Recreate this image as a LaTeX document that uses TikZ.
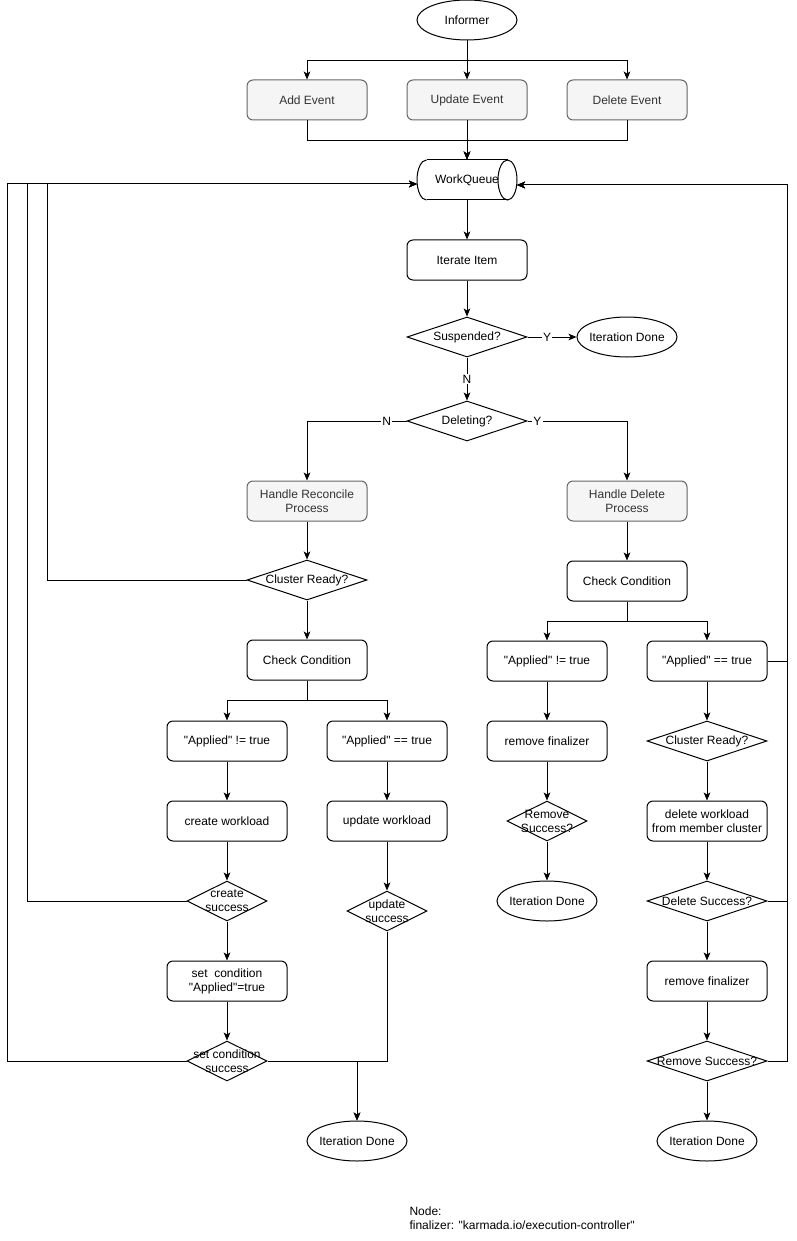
\documentclass[tikz,border=0pt]{standalone}
\usepackage{fontspec}
\setmainfont{Liberation Sans}[Ligatures=TeXOff]
\usetikzlibrary{shapes.geometric,arrows.meta}
\definecolor{gfill}{HTML}{F5F5F5}
\definecolor{gline}{HTML}{666666}
\definecolor{gtext}{HTML}{333333}
\begin{document}
\begin{tikzpicture}[x=0.75pt,y=-0.75pt,line width=0.75pt,
  >={Stealth[length=6pt,width=5pt,inset=1.5pt]},
  font=\fontsize{9}{10.5}\selectfont,
  box/.style={draw,rectangle,rounded corners=4.5pt,minimum width=90pt,minimum height=30pt,inner sep=1pt,align=center},
  gbox/.style={box,fill=gfill,draw=gline,text=gtext},
  dia/.style={draw,diamond,inner sep=0pt,minimum width=90pt,minimum height=30pt},
  sdia/.style={dia,minimum width=60pt},
  term/.style={draw,ellipse,inner sep=0pt,minimum width=75pt,minimum height=30pt},
  lbl/.style={fill=white,inner sep=1pt},
  clab/.style={label={[align=center]center:#1}}]
\useasboundingbox (0,0) rectangle (796,1241);

% top
\node[term,clab={Informer}] (inf) at (467,20) {};
\node[gbox] (add) at (307,100) {Add Event};
\node[gbox] (upd) at (467,100) {Update Event};
\node[gbox] (del) at (627,100) {Delete Event};
\node[inner sep=0pt,minimum width=75pt,minimum height=30pt] (wq) at (467,180) {WorkQueue};
\draw (426.5,160) -- (507.5,160);
\draw (426.5,200) -- (507.5,200);
\draw (507.5,180) ellipse [x radius=9.5, y radius=20];
\draw (426.5,160) .. controls (421.26,160) and (417,168.96) .. (417,180)
      .. controls (417,191.04) and (421.26,200) .. (426.5,200);
\coordinate (wqL) at (417,184);
\coordinate (wqR) at (517,185);
\coordinate (l1) at (7,184);
\coordinate (l2) at (27,184);
\coordinate (l3) at (47,184);
\coordinate (r1) at (787,185);

\node[box] (iter) at (467,260) {Iterate Item};
\node[dia,clab={Suspended?}] (susp) at (467,337) {};
\node[term,clab={Iteration Done}] (done1) at (627,337) {};
\node[dia,clab={Deleting?}] (dele) at (467,421) {};
\node[gbox] (hrp) at (307,501) {Handle Reconcile\\Process};
\node[gbox] (hdp) at (627,501) {Handle Delete\\Process};

% left branch
\node[dia,clab={Cluster Ready?}] (cr1) at (307,580) {};
\node[box] (cc1) at (307,660) {Check Condition};
\node[box] (an1) at (227,741) {"Applied" != true};
\node[box] (ae1) at (387,741) {"Applied" == true};
\node[box] (cw) at (227,821) {create workload};
\node[box] (uw) at (387,821) {update workload};
\node[sdia,clab={create\\success}] (cs) at (227,901) {};
\node[sdia,clab={update\\success}] (us) at (387,911) {};
\node[box] (sc) at (227,981) {set\ \ condition\\"Applied"=true};
\node[sdia,clab={set condition\\success}] (scs) at (227,1061) {};
\node[term,clab={Iteration Done}] (done2) at (357,1141) {};

% right branch
\node[box] (cc2) at (627,581) {Check Condition};
\node[box] (an2) at (547,661) {"Applied" != true};
\node[box] (ae2) at (707,661) {"Applied" == true};
\node[box] (rf1) at (547,741) {remove finalizer};
\node[sdia,clab={Remove\\Success?}] (rs1) at (547,821) {};
\node[term,clab={Iteration Done}] (done3) at (547,901) {};
\node[dia,clab={Cluster Ready?}] (cr2) at (707,741) {};
\node[box] (dw) at (707,821) {delete workload\\from member cluster};
\node[dia,clab={Delete Success?}] (ds) at (707,901) {};
\node[box] (rf2) at (707,981) {remove finalizer};
\node[dia,clab={Remove Success?}] (rs2) at (707,1061) {};
\node[term,clab={Iteration Done}] (done4) at (707,1141) {};

\node[anchor=north west,align=left,inner sep=0pt] (note) at (409,1206) {Node:\\finalizer: "karmada.io/execution-controller"};

% connectors
\draw[->] (inf.south) -- ++(0,20) -| (add.north);
\draw[->] (inf.south) -- ++(0,20) -| (del.north);
\draw[->] (inf) -- (upd);
\draw[->] (add.south) -- ++(0,20) -| (wq.north);
\draw[->] (del.south) -- ++(0,20) -| (wq.north);
\draw[->] (upd) -- (wq);
\draw[->] (wq) -- (iter);
\draw[->] (iter) -- (susp);
\draw[->] (susp) -- node[lbl,pos=0.4]{Y} (done1);
\draw[->] (susp) -- node[lbl]{N} (dele);
\draw[->] (dele.west) -| node[lbl,pos=0.1]{N} (hrp.north);
\draw[->] (dele.east) -| node[lbl,pos=0.05]{Y} (hdp.north);

\draw[->] (hrp) -- (cr1);
\draw[->] (cr1) -- (cc1);
\draw[->] (cc1.south) -- ++(0,20) -| (an1.north);
\draw[->] (cc1.south) -- ++(0,20) -| (ae1.north);
\draw[->] (an1) -- (cw);
\draw[->] (cw) -- (cs);
\draw[->] (cs) -- (sc);
\draw[->] (sc) -- (scs);
\draw[->] (ae1) -- (uw);
\draw[->] (uw) -- (us);
\draw[->] (scs.east) -| (done2.north);
\draw[->] (us.south) -- ++(0,130) -| (done2.north);

\draw[->] (scs.west) -| (l1) -- (wqL);
\draw[->] (cs.west) -| (l2) -- (wqL);
\draw[->] (cr1.west) -| (l3) -- (wqL);

\draw[->] (hdp) -- (cc2);
\draw[->] (cc2.south) -- ++(0,20) -| (an2.north);
\draw[->] (cc2.south) -- ++(0,20) -| (ae2.north);
\draw[->] (an2) -- (rf1);
\draw[->] (rf1) -- (rs1);
\draw[->] (rs1) -- (done3);
\draw[->] (ae2) -- (cr2);
\draw[->] (cr2) -- (dw);
\draw[->] (dw) -- (ds);
\draw[->] (ds) -- (rf2);
\draw[->] (rf2) -- (rs2);
\draw[->] (rs2) -- (done4);

\draw[->] (ae2.east) -| (r1) -- (wqR);
\draw[->] (ds.east) -| (r1) -- (wqR);
\draw[->] (rs2.east) -| (r1) -- (wqR);
\end{tikzpicture}
\end{document}
